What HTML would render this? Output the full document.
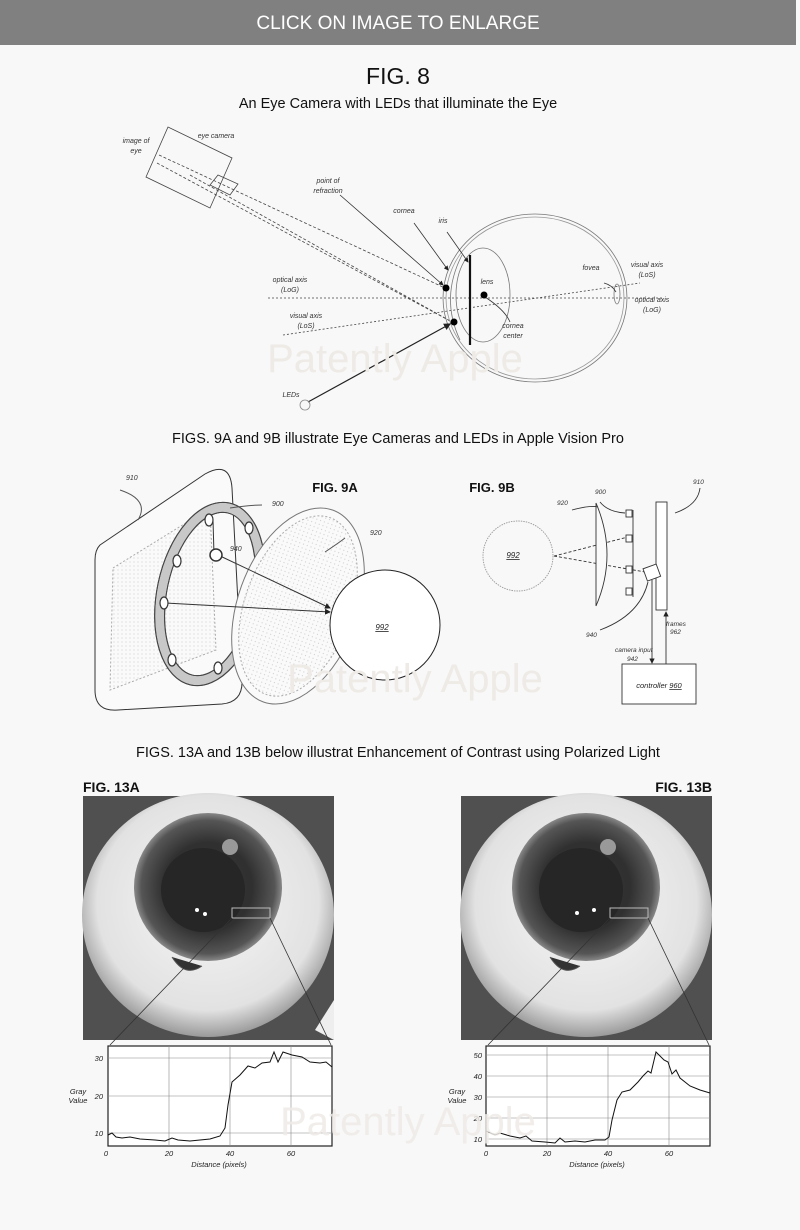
<!DOCTYPE html>
<html><head><meta charset="utf-8"><style>
body{margin:0;background:#f8f8f8;width:800px;height:1230px;overflow:hidden;font-family:"Liberation Sans",sans-serif}
svg{display:block}
</style></head><body>
<svg width="800" height="1230" viewBox="0 0 800 1230" xmlns="http://www.w3.org/2000/svg" font-family="Liberation Sans, sans-serif">
<defs>
<pattern id="dots" width="4" height="4" patternUnits="userSpaceOnUse"><rect width="4" height="4" fill="#fafafa"/><circle cx="2" cy="2" r="0.6" fill="#cfcfcf"/></pattern>
<radialGradient id="sclera" cx="50%" cy="45%" r="55%"><stop offset="0" stop-color="#f6f6f6"/><stop offset="0.8" stop-color="#e2e2e2"/><stop offset="1" stop-color="#9a9a9a"/></radialGradient>
<radialGradient id="iris" cx="50%" cy="50%" r="50%"><stop offset="0" stop-color="#353535"/><stop offset="0.6" stop-color="#303030"/><stop offset="0.9" stop-color="#555"/><stop offset="1" stop-color="#888"/></radialGradient>
<marker id="ar" markerWidth="6" markerHeight="6" refX="5" refY="3" orient="auto"><path d="M0,0 L6,3 L0,6 z" fill="#222"/></marker>
</defs>
<rect width="800" height="1230" fill="#f8f8f8"/>
<rect x="0" y="0" width="796" height="45" fill="#808080"/>
<text x="398" y="29" font-size="19" fill="#fff" text-anchor="middle">CLICK ON IMAGE TO ENLARGE</text>
<text x="398" y="84" font-size="23" fill="#111" text-anchor="middle">FIG. 8</text>
<text x="398" y="108" font-size="14.5" fill="#111" text-anchor="middle">An Eye Camera with LEDs that illuminate the Eye</text>

<!-- FIG 8 -->
<g stroke="#444" fill="none" stroke-width="0.8">
<polygon points="146,177 168,127 232,158 210,208"/>
<polygon points="210,185 218,175 238,184 230,195"/>
<line x1="159" y1="155" x2="445" y2="288" stroke-dasharray="3,2"/>
<line x1="157" y1="163" x2="452" y2="322" stroke-dasharray="3,2"/>
<line x1="190" y1="175" x2="452" y2="322" stroke-dasharray="3,2"/>
<line x1="268" y1="298" x2="664" y2="298" stroke-dasharray="2,2"/>
<line x1="283" y1="335" x2="640" y2="283" stroke-dasharray="2,2"/>
<ellipse cx="535" cy="298" rx="92" ry="84" stroke="#777"/>
<ellipse cx="535" cy="298" rx="89" ry="81" stroke="#999"/>
<ellipse cx="483" cy="295" rx="27" ry="47" stroke="#777"/>
<path d="M462,255 Q440,298 460,340" stroke="#777"/>
<ellipse cx="617" cy="294" rx="3" ry="10" stroke="#777"/>
<line x1="470" y1="255" x2="470" y2="345" stroke="#111" stroke-width="2.2"/>
<line x1="340" y1="195" x2="443" y2="285" stroke="#333" marker-end="url(#ar)"/>
<line x1="414" y1="223" x2="448" y2="270" stroke="#333" marker-end="url(#ar)"/>
<line x1="447" y1="232" x2="468" y2="262" stroke="#333" marker-end="url(#ar)"/>
<line x1="308" y1="402" x2="450" y2="324" stroke="#222" stroke-width="1.2" marker-end="url(#ar)"/>
<path d="M485,297 Q505,310 510,322" stroke="#333"/>
<path d="M604,283 Q612,285 616,292" stroke="#333"/>
<circle cx="305" cy="405" r="5" stroke="#888"/>
</g>
<circle cx="446" cy="288" r="3.5" fill="#000"/>
<circle cx="454" cy="322" r="3.5" fill="#000"/>
<circle cx="484" cy="295" r="3.5" fill="#000"/>
<g font-size="7" font-style="italic" fill="#333" text-anchor="middle">
<text x="136" y="143">image of</text><text x="136" y="153">eye</text>
<text x="216" y="138">eye camera</text>
<text x="328" y="183">point of</text><text x="328" y="193">refraction</text>
<text x="404" y="213">cornea</text>
<text x="443" y="223">iris</text>
<text x="487" y="284">lens</text>
<text x="290" y="282">optical axis</text><text x="290" y="292">(LoG)</text>
<text x="306" y="318">visual axis</text><text x="306" y="328">(LoS)</text>
<text x="513" y="328">cornea</text><text x="513" y="338">center</text>
<text x="591" y="270">fovea</text>
<text x="647" y="267">visual axis</text><text x="647" y="277">(LoS)</text>
<text x="652" y="302">optical axis</text><text x="652" y="312">(LoG)</text>
<text x="291" y="397">LEDs</text>
</g>
<text x="395" y="372" font-size="40" fill="#eeeae6" text-anchor="middle">Patently Apple</text>

<text x="398" y="443" font-size="14.5" fill="#111" text-anchor="middle">FIGS. 9A and 9B illustrate Eye Cameras and LEDs in Apple Vision Pro</text>

<!-- FIG 9A -->
<g stroke="#333" stroke-width="1" fill="none">
<path d="M100,545 L205,474 Q230,460 232,488 L242,680 Q243,702 222,704 L118,710 Q95,712 95,690 L95,560 Q95,550 100,545 Z" fill="#fafafa"/>
<path d="M113,568 L210,508 L216,650 L110,690 Z" fill="url(#dots)" stroke="#aaa" stroke-dasharray="2,2"/>
<ellipse cx="210" cy="594" rx="48" ry="88" transform="rotate(12 210 594)" stroke-width="11" stroke="#555"/>
<ellipse cx="210" cy="594" rx="48" ry="88" transform="rotate(12 210 594)" stroke-width="9" stroke="#c8c8c8"/>
<ellipse cx="210" cy="594" rx="53" ry="93" transform="rotate(12 210 594)" stroke="#444"/>
<ellipse cx="210" cy="594" rx="43" ry="83" transform="rotate(12 210 594)" stroke="#444"/>
<ellipse cx="298" cy="606" rx="60" ry="102" transform="rotate(20 298 606)" stroke="#777" fill="#fafafa"/>
<ellipse cx="298" cy="606" rx="53" ry="94" transform="rotate(20 298 606)" stroke="#aaa" stroke-dasharray="2,2" fill="url(#dots)"/>
<circle cx="385" cy="625" r="55" fill="#fff" stroke="#222"/>
<line x1="218" y1="555" x2="330" y2="608" marker-end="url(#ar)"/>
<line x1="165" y1="603" x2="330" y2="612" marker-end="url(#ar)"/>
<line x1="213" y1="520" x2="214" y2="555"/>
<circle cx="216" cy="555" r="6" fill="#fff" stroke-width="1.5"/>
<g fill="#fff" stroke-width="1.2">
<ellipse cx="209" cy="520" rx="4" ry="6"/><ellipse cx="249" cy="528" rx="4" ry="6"/>
<ellipse cx="177" cy="561" rx="4" ry="6"/><ellipse cx="164" cy="603" rx="4" ry="6"/>
<ellipse cx="172" cy="660" rx="4" ry="6"/><ellipse cx="218" cy="668" rx="4" ry="6"/>
</g>
<path d="M120,490 Q150,500 138,520" stroke="#555"/>
<path d="M230,508 Q250,505 262,505" stroke="#555"/>
<path d="M345,538 Q340,542 325,552" stroke="#555"/>
</g>
<g font-size="7" font-style="italic" fill="#333">
<text x="126" y="480">910</text><text x="272" y="506">900</text><text x="230" y="551">940</text><text x="370" y="535">920</text>
</g>
<text x="382" y="630" font-size="8" font-style="italic" fill="#222" text-decoration="underline" text-anchor="middle">992</text>
<text x="335" y="492" font-size="13" font-weight="bold" fill="#111" text-anchor="middle">FIG. 9A</text>
<text x="492" y="492" font-size="13" font-weight="bold" fill="#111" text-anchor="middle">FIG. 9B</text>

<!-- FIG 9B -->
<g stroke="#333" stroke-width="0.9" fill="none">
<circle cx="518" cy="556" r="35" stroke="#999" stroke-dasharray="1.5,1"/>
<line x1="554" y1="556" x2="628" y2="537" stroke-dasharray="3,2"/>
<line x1="554" y1="556" x2="645" y2="572" stroke-dasharray="3,2"/>
<path d="M596,503 Q618,555 596,606 Z" fill="#fafafa"/>
<line x1="633" y1="510" x2="633" y2="597"/>
<g fill="#fff"><rect x="626" y="510" width="6" height="7"/><rect x="626" y="535" width="6" height="7"/><rect x="626" y="566" width="6" height="7"/><rect x="626" y="588" width="6" height="7"/></g>
<rect x="656" y="502" width="11" height="108" fill="#fff"/>
<rect x="645" y="566" width="14" height="13" transform="rotate(-20 652 573)" fill="#fff"/>
<rect x="622" y="664" width="74" height="40" fill="#fff"/>
<line x1="652" y1="580" x2="652" y2="663" marker-end="url(#ar)"/>
<line x1="666" y1="664" x2="666" y2="612" marker-end="url(#ar)"/>
<path d="M600,630 Q640,615 648,582"/>
<path d="M675,513 Q698,505 700,488"/>
<path d="M572,510 Q590,505 598,507"/>
<path d="M600,502 Q608,512 625,513"/>
</g>
<g font-size="6.5" font-style="italic" fill="#333">
<text x="693" y="484">910</text><text x="557" y="505">920</text><text x="595" y="494">900</text>
<text x="586" y="637">940</text><text x="666" y="626">frames</text><text x="670" y="634">962</text>
<text x="615" y="652">camera input</text><text x="627" y="661">942</text>
</g>
<text x="513" y="558" font-size="8" font-style="italic" fill="#222" text-decoration="underline" text-anchor="middle">992</text>
<text x="659" y="688" font-size="7.5" font-style="italic" fill="#222" text-anchor="middle">controller <tspan text-decoration="underline">960</tspan></text>
<text x="415" y="692" font-size="40" fill="#eeeae6" text-anchor="middle">Patently Apple</text>

<text x="398" y="757" font-size="14.5" fill="#111" text-anchor="middle">FIGS. 13A and 13B below illustrat Enhancement of Contrast using Polarized Light</text>
<text x="83" y="792" font-size="14" font-weight="bold" fill="#111">FIG. 13A</text>
<text x="712" y="792" font-size="14" font-weight="bold" fill="#111" text-anchor="end">FIG. 13B</text>

<!-- Eye photos -->
<g>
<rect x="83" y="796" width="251" height="244" fill="#505050"/>
<ellipse cx="208" cy="915" rx="126" ry="122" fill="url(#sclera)"/>
<circle cx="208" cy="887" r="74" fill="url(#iris)"/>
<circle cx="203" cy="890" r="42" fill="#262626"/>
<path d="M172,957 Q185,978 202,966" fill="#333" stroke="#555"/>
<circle cx="230" cy="847" r="8" fill="#999"/>
<circle cx="197" cy="910" r="2" fill="#fff"/><circle cx="205" cy="914" r="2" fill="#fff"/>
<rect x="232" y="908" width="38" height="10" fill="none" stroke="#bbb"/>
<path d="M315,1030 L334,1000 L334,1040 Z" fill="#eee"/>
</g>
<g stroke="#333" stroke-width="0.8"><line x1="232" y1="918" x2="110" y2="1045"/><line x1="270" y1="918" x2="331" y2="1045"/></g>
<g>
<rect x="461" y="796" width="251" height="244" fill="#505050"/>
<ellipse cx="586" cy="915" rx="126" ry="122" fill="url(#sclera)"/>
<circle cx="586" cy="887" r="74" fill="url(#iris)"/>
<circle cx="581" cy="890" r="42" fill="#262626"/>
<path d="M550,957 Q563,978 580,966" fill="#333" stroke="#555"/>
<circle cx="608" cy="847" r="8" fill="#999"/>
<circle cx="577" cy="913" r="2" fill="#fff"/><circle cx="594" cy="910" r="2" fill="#fff"/>
<rect x="610" y="908" width="38" height="10" fill="none" stroke="#bbb"/>
</g>
<g stroke="#333" stroke-width="0.8"><line x1="610" y1="918" x2="488" y2="1045"/><line x1="648" y1="918" x2="709" y2="1045"/></g>

<!-- Chart A -->
<rect x="108" y="1046" width="224" height="100" fill="#fff" stroke="#222" stroke-width="1.2"/>
<g stroke="#888" stroke-width="0.6"><line x1="169" y1="1046" x2="169" y2="1146"/><line x1="230" y1="1046" x2="230" y2="1146"/><line x1="291" y1="1046" x2="291" y2="1146"/><line x1="108" y1="1058" x2="332" y2="1058"/><line x1="108" y1="1096" x2="332" y2="1096"/><line x1="108" y1="1133" x2="332" y2="1133"/></g>
<polyline fill="none" stroke="#111" stroke-width="1" points="108,1135 112,1133 116,1137 122,1138 130,1137 140,1139 155,1140 165,1141 172,1138 178,1140 190,1141 200,1140 210,1139 220,1136 225,1128 228,1105 232,1082 240,1075 248,1066 255,1068 262,1063 270,1062 274,1052 278,1062 283,1052 292,1055 302,1057 310,1062 320,1063 326,1062 332,1067"/>
<g font-size="7.5" font-style="italic" fill="#222"><text x="106" y="1156" text-anchor="middle">0</text><text x="169" y="1156" text-anchor="middle">20</text><text x="230" y="1156" text-anchor="middle">40</text><text x="291" y="1156" text-anchor="middle">60</text>
<text x="103" y="1061" text-anchor="end">30</text><text x="103" y="1099" text-anchor="end">20</text><text x="103" y="1136" text-anchor="end">10</text>
<text x="78" y="1094" text-anchor="middle">Gray</text><text x="78" y="1103" text-anchor="middle">Value</text>
<text x="219" y="1167" text-anchor="middle">Distance (pixels)</text></g>

<!-- Chart B -->
<rect x="486" y="1046" width="224" height="100" fill="#fff" stroke="#222" stroke-width="1.2"/>
<g stroke="#888" stroke-width="0.6"><line x1="547" y1="1046" x2="547" y2="1146"/><line x1="608" y1="1046" x2="608" y2="1146"/><line x1="669" y1="1046" x2="669" y2="1146"/><line x1="486" y1="1055" x2="710" y2="1055"/><line x1="486" y1="1076" x2="710" y2="1076"/><line x1="486" y1="1097" x2="710" y2="1097"/><line x1="486" y1="1118" x2="710" y2="1118"/><line x1="486" y1="1139" x2="710" y2="1139"/></g>
<polyline fill="none" stroke="#111" stroke-width="1" points="486,1131 495,1135 500,1133 510,1136 520,1138 526,1136 532,1141 545,1142 555,1143 560,1138 565,1142 575,1141 585,1142 595,1140 605,1140 609,1137 612,1120 617,1100 622,1092 630,1090 638,1082 643,1076 648,1071 651,1073 656,1052 664,1060 668,1062 672,1074 676,1070 680,1078 690,1086 700,1090 710,1093"/>
<g font-size="7.5" font-style="italic" fill="#222"><text x="486" y="1156" text-anchor="middle">0</text><text x="547" y="1156" text-anchor="middle">20</text><text x="608" y="1156" text-anchor="middle">40</text><text x="669" y="1156" text-anchor="middle">60</text>
<text x="482" y="1058" text-anchor="end">50</text><text x="482" y="1079" text-anchor="end">40</text><text x="482" y="1100" text-anchor="end">30</text><text x="482" y="1121" text-anchor="end">20</text><text x="482" y="1142" text-anchor="end">10</text>
<text x="457" y="1094" text-anchor="middle">Gray</text><text x="457" y="1103" text-anchor="middle">Value</text>
<text x="597" y="1167" text-anchor="middle">Distance (pixels)</text></g>
<text x="408" y="1135" font-size="40" fill="#eeeae6" fill-opacity="0.85" text-anchor="middle">Patently Apple</text>
</svg>
</body></html>
